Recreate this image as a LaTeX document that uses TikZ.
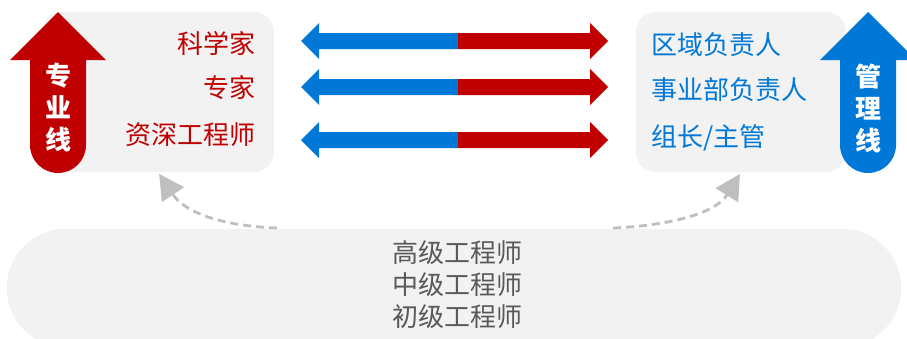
\documentclass[tikz,border=0pt]{standalone}
\usepackage{fontspec}
\setmainfont{Noto Sans CJK SC}
\usetikzlibrary{arrows.meta}

\definecolor{profred}{RGB}{192,0,0}
\definecolor{mgmtblue}{RGB}{0,120,215}
\definecolor{panelgray}{RGB}{242,242,242}
\definecolor{linkgray}{RGB}{191,191,191}
\definecolor{basetext}{RGB}{89,89,89}

\begin{document}
\begin{tikzpicture}[x=1pt, y=-1pt, font=\fontsize{26}{32}\selectfont,
	every node/.style={inner sep=0pt},
	panel/.style={fill=panelgray, rounded corners=20pt},
	link/.style={linkgray, line width=2.8pt, dash pattern=on 8pt off 5pt, -{Triangle[length=25pt, width=26pt]}, shorten >=2pt}]
\useasboundingbox (0,0) rectangle (907,338);
\clip (0,0) rectangle (907,338);

% panels
\node[panel, minimum width=232pt, minimum height=160pt] (prof) at (158,92) {};
\node[panel, minimum width=210pt, minimum height=160pt] (mgmt) at (741,92) {};
\node[fill=panelgray, rounded corners=58pt, minimum width=894pt, minimum height=118pt] (base) at (454,288) {};

% career lines
\foreach \cx/\col in {58/profred, 868/mgmtblue}{
	\fill[\col] (\cx-28,60) -- (\cx-48,60) -- (\cx,12) -- (\cx+48,60) -- (\cx+28,60) -- (\cx+28,145) -- (\cx-28,145) -- cycle;
	\fill[\col] (\cx,145) circle[radius=28];
}
\node[white, font=\fontsize{26}{32}\selectfont\bfseries, align=center] (proflbl) at (58,108) {专\\业\\线};
\node[white, font=\fontsize{26}{32}\selectfont\bfseries, align=center] (mgmtlbl) at (868,108) {管\\理\\线};

% two-way arrows
\foreach \y in {41,87,140}{
	\fill[mgmtblue] (458,\y-8) -- (319,\y-8) -- (319,\y-18) -- (301,\y) -- (319,\y+18) -- (319,\y+8) -- (458,\y+8) -- cycle;
	\fill[profred] (458,\y-8) -- (590,\y-8) -- (590,\y-18) -- (608,\y) -- (590,\y+18) -- (590,\y+8) -- (458,\y+8) -- cycle;
}

\node[profred, anchor=east] (sci) at (256,43) {科学家};
\node[profred, anchor=east] (expert) at (256,88) {专家};
\node[profred, anchor=east] (senior) at (256,135) {资深工程师};
\node[mgmtblue, anchor=west] (region) at (651,45) {区域负责人};
\node[mgmtblue, anchor=west] (division) at (651,90) {事业部负责人};
\node[mgmtblue, anchor=west] (lead) at (651,138) {组长/主管};

\node[basetext, align=center] (levels) at (457,285) {高级工程师\\中级工程师\\初级工程师};

\coordinate (lfoot) at (277,228);
\coordinate (rfoot) at (613,228);
\draw[link] (lfoot) .. controls (225,226) and (186,214) .. (prof.south);
\draw[link] (rfoot) .. controls (660,226) and (714,216) .. (mgmt.south);
\end{tikzpicture}
\end{document}
